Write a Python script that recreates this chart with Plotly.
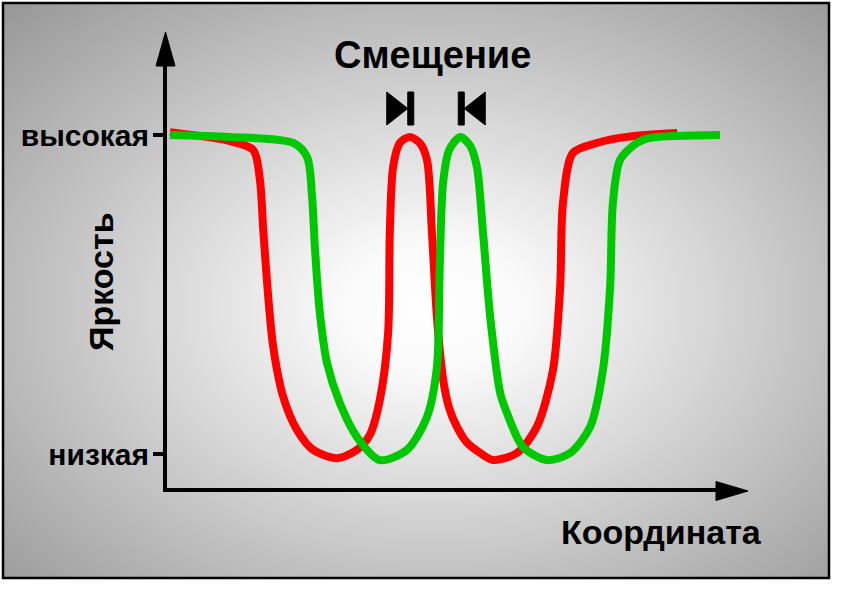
import base64
import plotly.graph_objects as go

# ---------------- data ----------------
# x: coordinate (arbitrary units 0..100), y: brightness (0 = низкая, 100 = высокая)
red_x = [0.9, 11.7, 15.9, 17.1, 17.7, 18.6, 19.5, 21.3, 23.8, 26.7, 31.0, 34.6, 36.9,
         38.7, 40.2, 40.5, 41.1, 42.3, 44.1, 45.9, 47.2, 48.1, 49.0, 50.1, 51.2, 52.6, 54.4, 56.8,
         59.1, 63.4, 67.0, 69.9, 71.2, 71.7, 73.5, 77.8, 83.2, 92.3]
red_y = [100.9, 98.1, 95.3, 85.9, 70.2, 49.2, 33.5, 17.9, 7.5, 1.3, -1.3, 1.3, 6.0,
         16.9, 37.9, 69.3, 90.0, 97.5, 99.4, 97.5, 92.2, 69.3, 42.9, 23.5, 14.4, 8.5, 3.6, 0.3,
         -1.9, 0.3, 8.5, 26.3, 52.4, 78.7, 94.4, 97.5, 99.4, 100.6]

green_x = [0.9, 11.7, 23.1, 25.6, 26.5, 27.0, 27.9, 29.2, 31.5, 34.6, 38.7, 43.6, 47.2,
           49.0, 49.5, 50.1, 51.2, 53.2, 55.0, 56.2, 57.3, 58.6, 60.4, 61.6, 64.5, 68.8, 73.0,
           76.6, 78.9, 80.2, 80.7, 82.0, 85.0, 87.4, 100.0]
green_y = [100.0, 99.4, 97.5, 93.1, 80.6, 64.9, 44.2, 28.5, 16.0, 5.3, -1.9, 1.3, 11.6,
           27.3, 58.6, 85.0, 95.3, 99.4, 96.6, 90.0, 69.3, 42.9, 19.1, 12.9, 2.2, -1.9, 0.3,
           8.5, 26.3, 52.4, 78.7, 92.2, 97.5, 99.1, 100.0]

tick_vals = [0, 100]
tick_text = ["низкая", "высокая"]
red_peak_x = 44.1
green_peak_x = 53.2

title_text = "Смещение"
y_title = "Яркость"
x_title = "Координата"

# ---------------- geometry helpers ----------------
W, H = 843, 593
def px(x):
    return x / W
def py(y):
    return 1 - y / H

ORIG_X, ORIG_Y = 165, 454      # pixel of data (0, 0)
PX_PER_X = 5.55                # pixels per x unit
PX_PER_Y = 3.19                # pixels per y unit
X0, X1 = 167, 720              # x axis domain in pixels
Y0, Y1 = 488, 64               # y axis domain in pixels (bottom, top)

FONT = "Liberation Sans, Arial, sans-serif"

fig = go.Figure()
fig.add_trace(go.Scatter(x=red_x, y=red_y, mode="lines",
                         line=dict(color="#ff0000", width=8, shape="spline", smoothing=0.8),
                         hoverinfo="skip", showlegend=False))
fig.add_trace(go.Scatter(x=green_x, y=green_y, mode="lines",
                         line=dict(color="#00c800", width=8, shape="spline", smoothing=0.8),
                         hoverinfo="skip", showlegend=False))

# background radial gradient
svg = ("<svg xmlns='http://www.w3.org/2000/svg' width='826' height='575' viewBox='0 0 826 575' "
       "preserveAspectRatio='none'><defs><radialGradient id='g' cx='0.52' cy='0.53' r='0.72'>"
       "<stop offset='0' stop-color='#ffffff'/><stop offset='0.15' stop-color='#fafafa'/>"
       "<stop offset='1' stop-color='#9a9a9a'/></radialGradient></defs>"
       "<rect width='826' height='575' fill='url(#g)'/></svg>")
src = "data:image/svg+xml;base64," + base64.b64encode(svg.encode()).decode()

shapes = []
# frame
shapes.append(dict(type="rect", xref="paper", yref="paper", x0=px(3), x1=px(829), y0=py(578), y1=py(3),
                   line=dict(color="black", width=2.5), layer="above"))
# axis arrowheads
shapes.append(dict(type="path", xref="paper", yref="paper",
                   path=f"M {px(156)},{py(66)} L {px(165.5)},{py(32)} L {px(175)},{py(66)} Z",
                   fillcolor="black", line=dict(color="black", width=1)))
shapes.append(dict(type="path", xref="paper", yref="paper",
                   path=f"M {px(716)},{py(481.5)} L {px(748)},{py(491)} L {px(716)},{py(500.5)} Z",
                   fillcolor="black", line=dict(color="black", width=1)))

# shift markers at the peaks
u = 1.0 / PX_PER_X
mt, mb, mm = py(92), py(125), py(108.5)
r = red_peak_x
shapes.append(dict(type="path", xref="x", yref="paper",
                   path=f"M {r-23*u},{mt} L {r-2*u},{mm} L {r-23*u},{mb} Z",
                   fillcolor="black", line=dict(color="black", width=1)))
shapes.append(dict(type="rect", xref="x", yref="paper", x0=r-2*u, x1=r+4*u, y0=mb, y1=mt,
                   fillcolor="black", line=dict(color="black", width=1)))
g = green_peak_x
shapes.append(dict(type="path", xref="x", yref="paper",
                   path=f"M {g+25*u},{mt} L {g+4*u},{mm} L {g+25*u},{mb} Z",
                   fillcolor="black", line=dict(color="black", width=1)))
shapes.append(dict(type="rect", xref="x", yref="paper", x0=g-2*u, x1=g+4*u, y0=mb, y1=mt,
                   fillcolor="black", line=dict(color="black", width=1)))

annotations = [
    dict(text=title_text, xref="paper", yref="paper", x=px(432), y=py(55), showarrow=False,
         xanchor="center", yanchor="middle", font=dict(family=FONT, size=38, color="black", weight="bold")),
    dict(text=y_title, xref="paper", yref="paper", x=px(101), y=py(282), showarrow=False, textangle=-90,
         xanchor="center", yanchor="middle", font=dict(family=FONT, size=34, color="black", weight="bold")),
    dict(text=x_title, xref="paper", yref="paper", x=px(661), y=py(532), showarrow=False,
         xanchor="center", yanchor="middle", font=dict(family=FONT, size=34, color="black", weight="bold")),
]

fig.update_layout(
    width=W, height=H, autosize=False,
    margin=dict(l=0, r=0, t=0, b=0),
    paper_bgcolor="white", plot_bgcolor="rgba(0,0,0,0)",
    images=[dict(source=src, xref="paper", yref="paper", x=px(3), y=py(3),
                 sizex=px(829) - px(3), sizey=(578 - 3) / H, xanchor="left", yanchor="top",
                 sizing="stretch", layer="below")],
    shapes=shapes, annotations=annotations,
    xaxis=dict(domain=[px(X0), px(X1)],
               range=[(X0 - ORIG_X) / PX_PER_X, (X1 - ORIG_X) / PX_PER_X],
               showline=True, linewidth=4, linecolor="black",
               showgrid=False, zeroline=False, showticklabels=False, ticks=""),
    yaxis=dict(domain=[py(Y0), py(Y1)],
               range=[(ORIG_Y - Y0) / PX_PER_Y, (ORIG_Y - Y1) / PX_PER_Y],
               showline=True, linewidth=4, linecolor="black", showgrid=False, zeroline=False,
               tickvals=tick_vals, ticktext=tick_text, ticks="outside", ticklen=10, tickwidth=4,
               ticklabelstandoff=-2,
               tickcolor="black", tickfont=dict(family=FONT, size=30, color="black", weight="bold")),
)

fig.write_html("out.html", config={"displayModeBar": False},
               post_script="document.body.style.margin='0px';")
